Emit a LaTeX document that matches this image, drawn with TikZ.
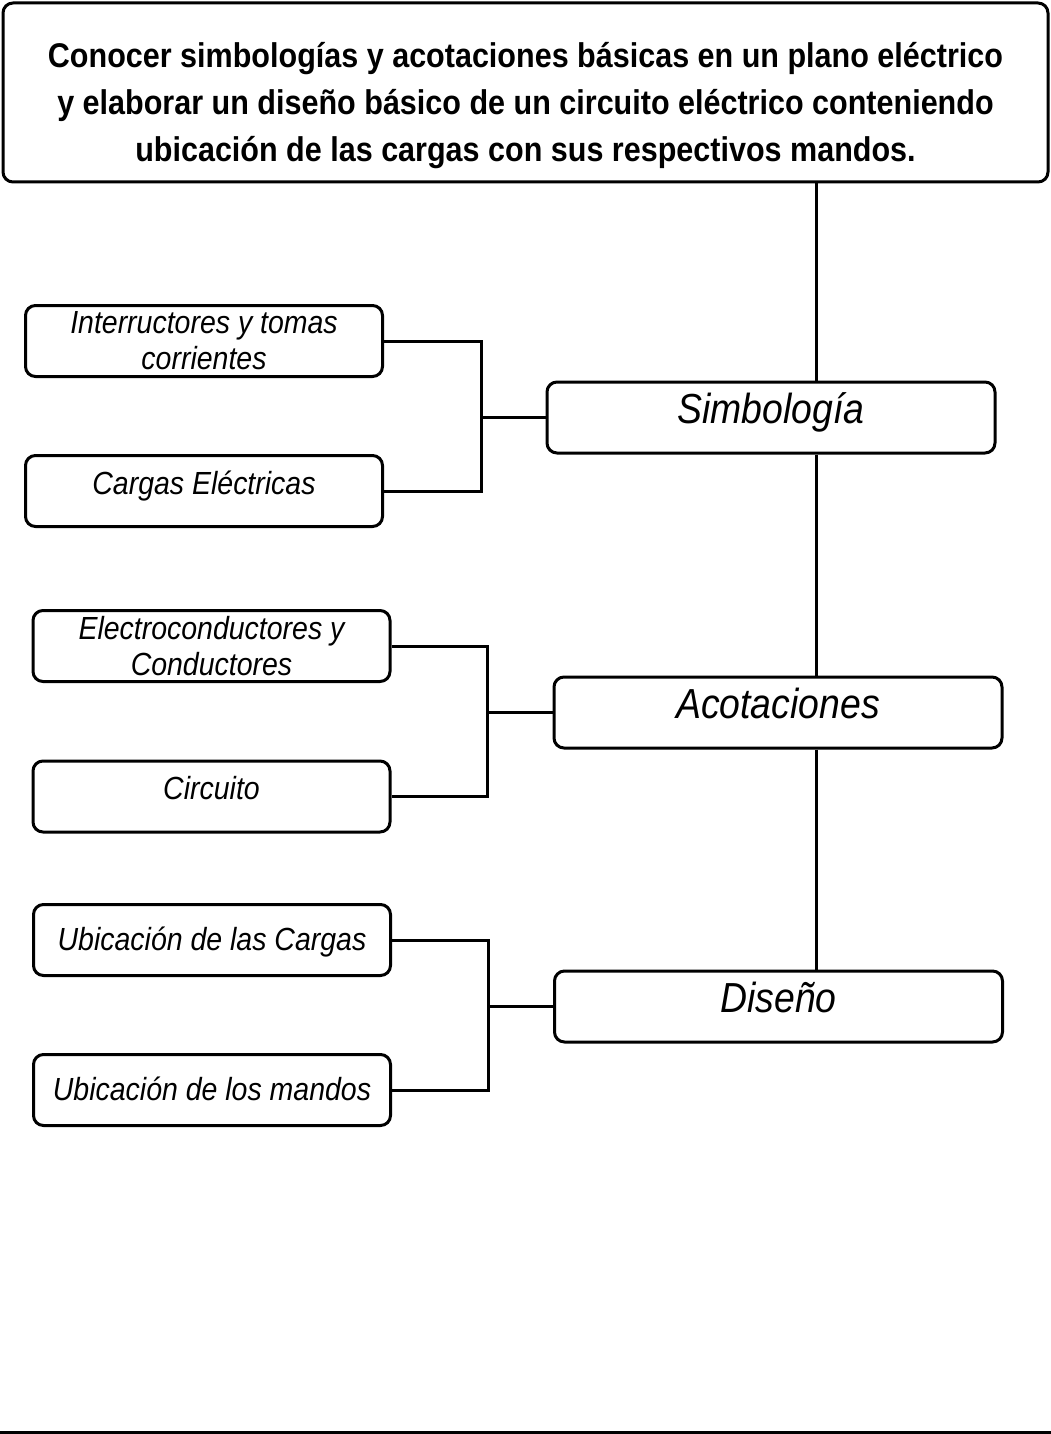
\documentclass[tikz,border=0pt]{standalone}
\usepackage{fontspec}
\setmainfont{Liberation Sans}[FakeStretch=0.89]
\usetikzlibrary{positioning}
\tikzset{
  wire/.style={line width=3pt},
  box/.style={draw, line width=3pt, rounded corners=10pt, inner sep=0pt,
    minimum width=357pt, minimum height=71pt, align=center,
    font=\itshape\fontsize{32}{36}\selectfont},
  oneline/.style={box, text height=16pt, text depth=10pt},
  lowline/.style={box, text height=22pt, text depth=2pt},
  mainbox/.style={box, minimum width=448pt, text height=22pt, text depth=11pt,
    font=\itshape\fontsize{42}{44}\selectfont},
}
\begin{document}
\begin{tikzpicture}[x=1pt,y=-1pt]
  \useasboundingbox (0,0) rectangle (1051,1434);
  %% objetivo
  \node[draw, line width=3pt, rounded corners=10pt, minimum width=1045pt,
    minimum height=179pt,
    label={[align=center, yshift=-13pt, font=\bfseries\fontsize{34.3}{47}\selectfont]center:
      Conocer simbologías y acotaciones básicas en un plano eléctrico\\
      y elaborar un diseño básico de un circuito eléctrico conteniendo\\
      ubicación de las cargas con sus respectivos mandos.}] (goal) at (525.5,92.5) {};
  %% temas
  \node[mainbox] (sim) at (771,417.5) {Simbología};
  \node[mainbox] (acot) at (778,712.5) {Acotaciones};
  \node[mainbox] (dis) at (778.5,1006.5) {Diseño};
  %% subtemas
  \node[box] (inter) at (204,341) {Interructores y tomas\\corrientes};
  \node[oneline] (carg) at (204,491) {Cargas Eléctricas};
  \node[box] (elec) at (211.5,646) {Electroconductores y\\Conductores};
  \node[oneline] (circ) at (211.5,796.5) {Circuito};
  \node[lowline] (ubc) at (212,940) {Ubicación de las Cargas};
  \node[lowline] (ubm) at (212,1090) {Ubicación de los mandos};
  %% conexiones
  \coordinate (trunk) at (816,0);
  \foreach \a/\b in {goal/sim, sim/acot, acot/dis}
    \draw[wire] (\a.south -| trunk) -- (\b.north -| trunk);
  \coordinate (j1) at (481,0);
  \coordinate (j2) at (487,0);
  \coordinate (j3) at (488,0);
  \foreach \u/\l/\t/\j in {inter/carg/sim/j1, elec/circ/acot/j2, ubc/ubm/dis/j3} {
    \draw[wire] (\u.east) -| (\j |- \l.east) -- (\l.east);
    \draw[wire] (\j |- \t.west) -- (\t.west);
  }
  \draw[wire] (0,1432) -- (1051,1432);
\end{tikzpicture}
\end{document}
